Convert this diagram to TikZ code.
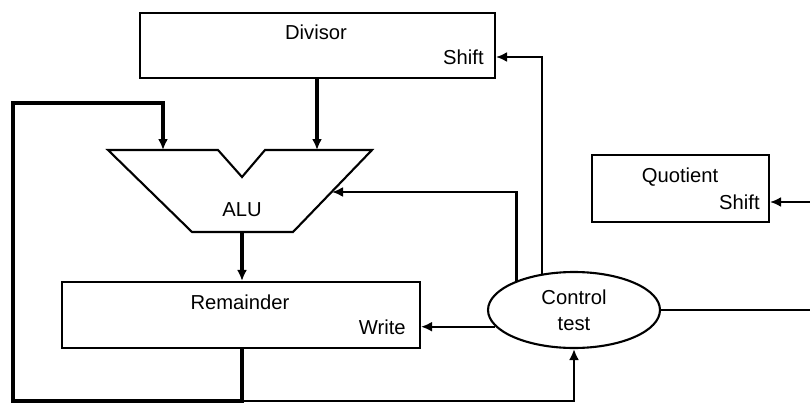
\documentclass[tikz,border=0pt]{standalone}
\usepackage{fontspec}
\setmainfont{Liberation Sans}
\usetikzlibrary{positioning, arrows.meta, shapes.geometric, calc}

\begin{document}
\begin{tikzpicture}[
    x=0.02cm, y=-0.02cm,
    reg/.style={draw, line width=1.2pt, inner sep=0pt},
    lbl/.style={font=\fontsize{11.5}{13}\selectfont, inner sep=0pt},
    busarr/.style={-{Latex[length=2.2mm, width=2mm]}, line width=1.8pt},
    ctrl/.style={-{Latex[length=2.2mm, width=2mm]}, line width=1.2pt}
]
\useasboundingbox (0,0) rectangle (810,405);

% Divisor
\node[reg, minimum width=7.1cm, minimum height=1.3cm] (divisor) at (317.5,45.5) {};
\node[lbl] (divtxt) at (316,32) {Divisor};
\node[lbl, anchor=east] (divshift) at (484,57) {Shift};

% ALU
\coordinate (alua) at (163,150);
\coordinate (alub) at (317,150);
\coordinate (aluout) at (242,232);
\coordinate (aluctl) at (332,192);
\draw[line width=1.2pt, line join=miter] (108,150) -- (218,150) -- (242,177) -- (265,150)
    -- (372,150) -- (293,232) -- (192,232) -- cycle;
\node[lbl] (alutxt) at (242,210) {ALU};

% Remainder
\node[reg, minimum width=7.16cm, minimum height=1.32cm] (rem) at (241,315) {};
\node[lbl] (remtxt) at (240,302) {Remainder};
\node[lbl, anchor=east] (remwrite) at (406,327) {Write};

% Quotient
\node[reg, minimum width=3.54cm, minimum height=1.34cm] (quo) at (680.5,188.5) {};
\node[lbl] (quotxt) at (680,177) {Quotient};
\node[lbl, anchor=east] (quoshift) at (760,202) {Shift};

% Control
\node[draw, ellipse, line width=1.2pt, minimum width=3.44cm, minimum height=1.52cm,
      align=center, font=\fontsize{11.5}{15}\selectfont] (ctl) at (574,310) {Control\\test};

% Data paths
\coordinate (loopbot) at (aluout |- 0,401);
\draw[busarr] (divisor.south -| alub) -- (alub);
\draw[busarr] (aluout) -- (rem.north -| aluout);
\draw[busarr, line join=miter] (rem.south -| aluout) -- (loopbot) -| (13,103) -| (alua);
\draw[ctrl, line width=1.5pt] (loopbot) -| (ctl.south);

% Control lines
\draw[ctrl] (ctl.192) -- (ctl.192 -| rem.east);
\draw[ctrl] (ctl.153) |- (aluctl);
\draw[ctrl] (ctl.131) |- (divisor.east |- divshift);
\draw[ctrl] (ctl.east) -| (818,250) |- (quo.east |- quoshift);

\end{tikzpicture}
\end{document}
